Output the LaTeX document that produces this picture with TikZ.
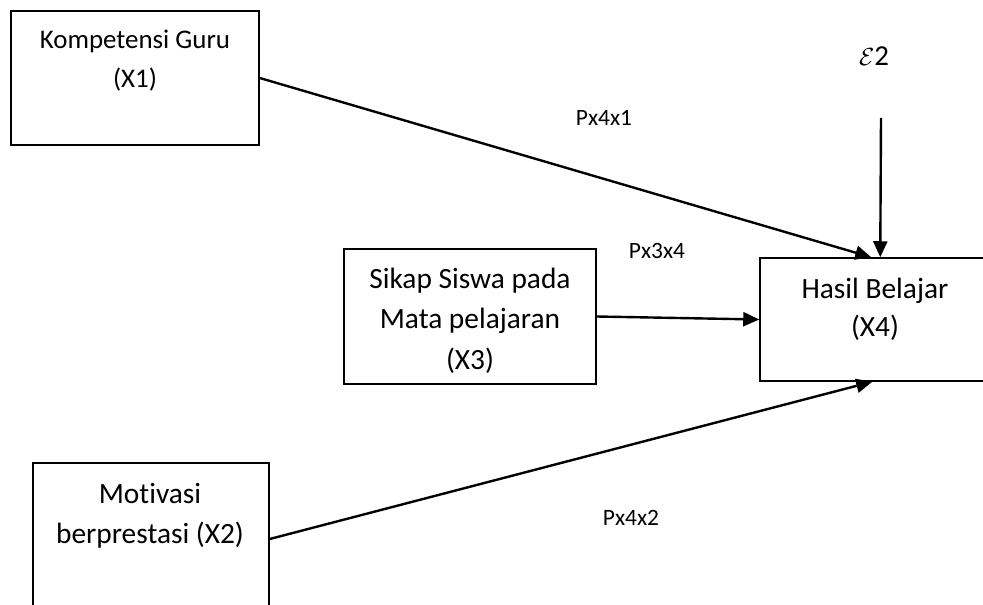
\documentclass[tikz,border=0pt]{standalone}
\usepackage{fontspec}
\setmainfont[Ligatures=NoCommon]{Carlito}
\usetikzlibrary{arrows.meta}

\tikzset{
  box/.style={draw, line width=1.5bp, inner sep=0pt, fill=none},
  boxtext/.style={align=center, inner sep=0pt, font=\fontsize{29.5}{40.5}\selectfont},
  coef/.style={anchor=base, inner sep=0pt, font=\fontsize{23.5}{27}\selectfont},
  arr/.style={line width=2.4bp, -{Triangle[length=16bp,width=14bp]}}
}

\begin{document}
\begin{tikzpicture}[x=1bp, y=-1bp]
  \useasboundingbox (0,0) rectangle (983,605);
  \clip (0,0) rectangle (983,605);

  % variable boxes
  \node[box, minimum width=248bp, minimum height=134bp] (x1) at (135,78) {};
  \node[box, minimum width=252bp, minimum height=135bp] (x3) at (470,316.5) {};
  \node[box, minimum width=230bp, minimum height=123bp] (x4) at (875,319.5) {};
  \node[box, minimum width=236bp, minimum height=152bp] (x2) at (151,539) {};

  % box captions
  \node[boxtext, font=\fontsize{27}{39}\selectfont] (x1t) at (135,61) {Kompetensi Guru\\(X1)};
  \node[boxtext] (x3t) at (470,320.5) {Sikap Siswa pada\\Mata pelajaran\\(X3)};
  \node[boxtext, font=\fontsize{29.5}{38}\selectfont] (x4t) at (875,309) {Hasil Belajar\\(X4)};
  \node[boxtext] (x2t) at (150,515.5) {Motivasi\\berprestasi (X2)};

  % path coefficients and residual
  \node[coef] (p41) at (604,126) {Px4x1};
  \node[coef] (p34) at (657,259) {Px3x4};
  \node[coef] (p42) at (631,525) {Px4x2};
  \node[coef, font=\fontsize{29}{32}\selectfont] (eps) at (874,66) {$\mathcal{E}$2};
  \coordinate (e0) at (881,118);

  % paths
  \draw[arr] (x1.east) -- ([xshift=112bp]x4.north west);
  \draw[arr] (e0) -- ([xshift=121bp]x4.north west);
  \draw[arr] (x3.east) -- (x4.west);
  \draw[arr] (x2.east) -- ([xshift=113bp]x4.south west);
\end{tikzpicture}
\end{document}
